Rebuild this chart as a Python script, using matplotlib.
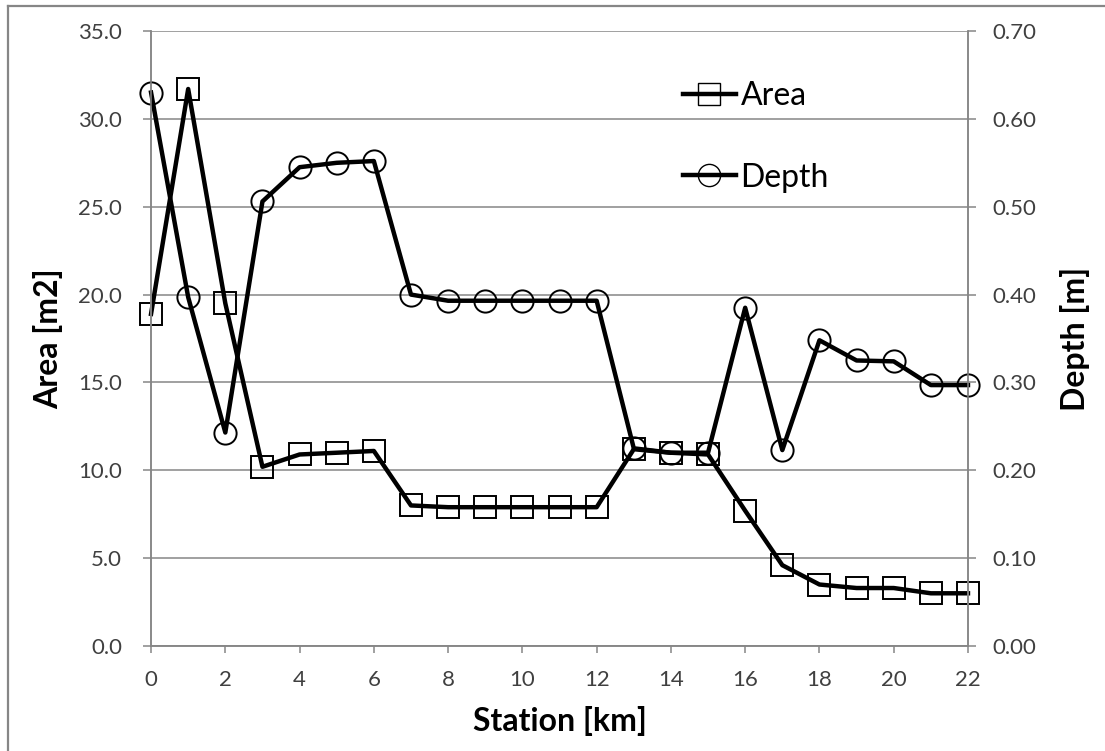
import matplotlib
matplotlib.use("Agg")
import matplotlib.pyplot as plt
from matplotlib.lines import Line2D

plt.rcParams['font.family'] = ['Lato', 'DejaVu Sans']

station = list(range(0, 23))
area = [18.9, 31.7, 19.5, 10.2, 10.9, 11.0, 11.1, 8.0, 7.9, 7.9, 7.9, 7.9, 7.9,
        11.2, 11.0, 10.9, 7.7, 4.6, 3.5, 3.3, 3.3, 3.0, 3.0]
depth = [0.63, 0.397, 0.243, 0.506, 0.545, 0.55, 0.552, 0.40, 0.393, 0.393, 0.393, 0.393, 0.393,
         0.225, 0.22, 0.22, 0.385, 0.223, 0.348, 0.325, 0.324, 0.297, 0.297]

area_ticks = [0, 5, 10, 15, 20, 25, 30, 35]
depth_ticks = [0.0, 0.1, 0.2, 0.3, 0.4, 0.5, 0.6, 0.7]
x_ticks = list(range(0, 23, 2))

grey = '#868686'
tick_col = '#404040'

fig = plt.figure(figsize=(11.05, 7.51), dpi=100)
fig.subplots_adjust(left=0.1367, right=0.876, top=0.9587, bottom=0.1398)
ax = fig.add_subplot(111)
ax2 = ax.twinx()

line_kw = dict(color='black', linewidth=3.2, markersize=16, markerfacecolor='none',
               markeredgecolor='black', markeredgewidth=1.4, clip_on=False)
ax.plot(station, area, marker='s', **line_kw)
ax2.plot(station, depth, marker='o', **line_kw)

ax.set_xlim(0, 22)
ax.set_ylim(0, 35)
ax2.set_ylim(0, 0.7)
ax.set_xticks(x_ticks)
ax.set_yticks(area_ticks)
ax2.set_yticks(depth_ticks)
ax.set_yticklabels([f'{v:.1f}' for v in area_ticks])
ax2.set_yticklabels([f'{v:.2f}' for v in depth_ticks])

ax.yaxis.grid(True, color=grey, linewidth=1.1)
ax.set_axisbelow(True)

for a in (ax, ax2):
    a.spines['top'].set_visible(False)
    for s in ('left', 'right', 'bottom'):
        a.spines[s].set_color(grey)
        a.spines[s].set_linewidth(1.1)
ax.tick_params(axis='x', direction='out', length=5, width=1.1, color=grey,
               labelsize=16, labelcolor=tick_col, pad=12)
ax.tick_params(axis='y', direction='out', length=6, width=1.1, color=grey,
               labelsize=16, labelcolor=tick_col, pad=15)
ax2.tick_params(axis='y', direction='out', length=6, width=1.1, color=grey,
                labelsize=16, labelcolor=tick_col, pad=11.5)

ax.set_xlabel('Station [km]', fontsize=23, fontweight='bold', labelpad=12)
ax.set_ylabel('Area [m2]', fontsize=23, fontweight='bold')
ax2.set_ylabel('Depth [m]', fontsize=23, fontweight='bold')
ax.yaxis.set_label_coords(-0.108, 0.5)
ax2.yaxis.set_label_coords(1.113, 0.5)

handles = [Line2D([], [], color='black', linewidth=3.2, marker='s', markersize=16,
                  markerfacecolor='none', markeredgecolor='black', markeredgewidth=1.0),
           Line2D([], [], color='black', linewidth=3.2, marker='o', markersize=16,
                  markerfacecolor='none', markeredgecolor='black', markeredgewidth=1.0)]
ax2.legend(handles, ['Area', 'Depth'], loc='center left', bbox_to_anchor=(0.616, 0.828),
           frameon=False, fontsize=23, handlelength=1.65, handletextpad=0.15,
           labelspacing=1.62)

# chart area border: only the top and left edges are visible in the crop
fig.add_artist(Line2D([8 / 1105, 8 / 1105], [0, 1 - 6 / 751], transform=fig.transFigure,
                      color=grey, linewidth=1.6))
fig.add_artist(Line2D([8 / 1105, 1], [1 - 6 / 751, 1 - 6 / 751], transform=fig.transFigure,
                      color=grey, linewidth=1.6))

fig.savefig('out.png', dpi=100)
